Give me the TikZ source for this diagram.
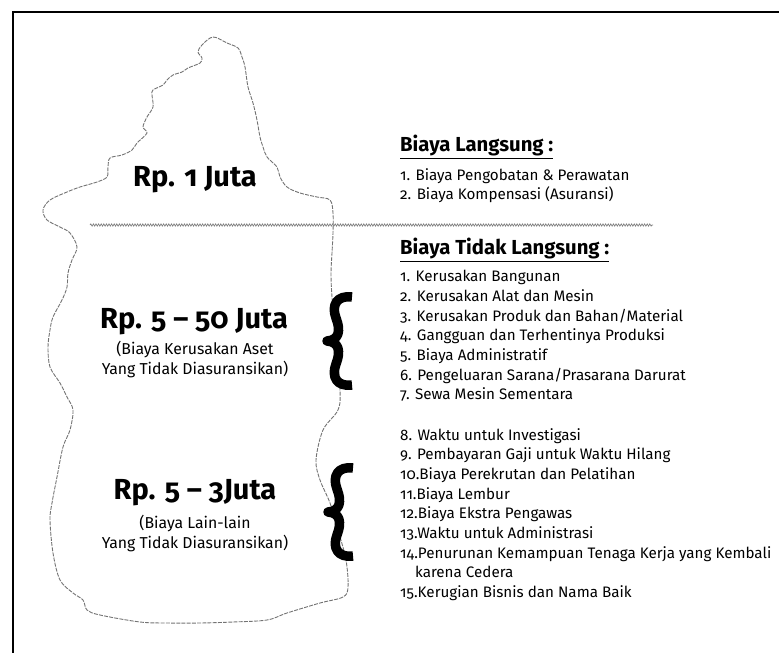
\documentclass[tikz,border=0pt]{standalone}
\usepackage{fontspec}
\setmainfont{Fira Sans}[Numbers=OldStyle]
\usetikzlibrary{decorations.pathmorphing}

\begin{document}
\begin{tikzpicture}[x=1pt,y=-1pt,
    iceberg/.style={draw=black!55,line width=0.9pt,dash pattern=on 4pt off 1.2pt},
    waterline/.style={draw=black!50,line width=0.7pt,decorate,
        decoration={snake,segment length=2.6pt,amplitude=1.1pt}},
    brace/.style={line width=9.5pt,line cap=butt,line join=round},
    cost/.style={font=\fontsize{29}{32}\selectfont\bfseries,inner sep=0pt},
    note/.style={font=\fontsize{15.8}{20}\selectfont,align=center,inner sep=0pt},
    head/.style={font=\fontsize{20.3}{22}\selectfont\bfseries,anchor=west,inner sep=0pt},
    items/.style={font=\fontsize{15.2}{19.7}\selectfont,align=left,anchor=north west,inner sep=0pt}]

    \useasboundingbox (0,0) rectangle (779,653);

    % Frame
    \draw[line width=2pt] (779,12) -- (13,12) -- (13,653);

    % Iceberg outline
    \draw[iceberg] plot[smooth cycle,tension=0.55] coordinates {
        (213,37) (227,43) (238,48) (242,57) (245,67) (248,87) (253,103)
        (257,120) (260,137) (263,147) (267,157) (277,167) (280,177)
        (287,187) (300,193) (317,197) (330,200) (333,213) (333,233)
        (332,253) (331,273) (332,297) (336,340) (340,390) (338,410)
        (323,430) (316,460) (320,480) (330,503) (338,530) (346,560)
        (348,587) (343,597) (320,603) (287,613) (267,620) (233,622)
        (200,623) (167,623) (140,622) (100,615) (87,610) (83,600)
        (73,593) (60,580) (53,553) (50,520) (52,503) (57,477) (63,447)
        (70,430) (73,410) (67,397) (60,383) (50,367) (48,347) (50,330)
        (53,317) (62,300) (67,287) (68,273) (72,260) (77,247) (70,233)
        (60,227) (47,220) (43,210) (50,200) (67,192) (80,187) (97,182)
        (107,177) (108,167) (110,158) (122,155) (132,150) (137,143)
        (147,133) (143,127) (147,117) (153,107) (152,95) (153,90)
        (163,85) (167,80) (173,75) (182,72) (188,68) (200,63) (202,58)
        (198,52) (202,45)};

    % Water line
    \coordinate (wl) at (90,225);
    \coordinate (wr) at (653,225);
    \draw[waterline] (wl) -- (wr);

    % Cost labels on the iceberg
    \node[cost] (juta1) at (195,180) {Rp. 1 Juta};
    \node[cost] (juta50) at (194,322) {Rp. 5 – 50 Juta};
    \node[note] (aset) at (195,360) {(Biaya Kerusakan Aset\\Yang Tidak Diasuransikan)};
    \node[cost] (juta3) at (195,493) {Rp. 5 – 3Juta};
    \node[note] (lain) at (195,533) {(Biaya Lain-lain\\Yang Tidak Diasuransikan)};

    % Braces
    \draw[brace] (352,297) .. controls (337,295) and (331,305) .. (336,318)
        .. controls (341,331) and (339,340) .. (327,341)
        .. controls (339,342) and (341,351) .. (336,364)
        .. controls (331,377) and (337,387) .. (352,385);
    \draw[brace] (353,468) .. controls (338,466) and (332,476) .. (337,489)
        .. controls (342,502) and (340,511) .. (328,512)
        .. controls (340,513) and (342,522) .. (337,535)
        .. controls (332,548) and (338,558) .. (353,556);

    % Direct costs
    \node[head] (langsung) at (400,147) {\underline{Biaya Langsung :}};
    \node[items] (listA) at (400,168) {1. Biaya Pengobatan \& Perawatan\\
        2. Biaya Kompensasi (Asuransi)};

    % Indirect costs
    \node[head] (tidak) at (400,250) {\underline{Biaya Tidak Langsung :}};
    \node[items] (listB) at (400,270) {1. Kerusakan Bangunan\\
        2. Kerusakan Alat dan Mesin\\
        3. Kerusakan Produk dan Bahan/Material\\
        4. Gangguan dan Terhentinya Produksi\\
        5. Biaya Administratif\\
        6. Pengeluaran Sarana/Prasarana Darurat\\
        7. Sewa Mesin Sementara};
    \node[items] (listC) at (400,428) {8. Waktu untuk Investigasi\\
        9. Pembayaran Gaji untuk Waktu Hilang\\
        10.Biaya Perekrutan dan Pelatihan\\
        11.Biaya Lembur\\
        12.Biaya Ekstra Pengawas\\
        13.Waktu untuk Administrasi\\
        14.Penurunan Kemampuan Tenaga Kerja yang Kembali\\
        \hspace*{15pt}karena Cedera\\
        15.Kerugian Bisnis dan Nama Baik};

\end{tikzpicture}
\end{document}
